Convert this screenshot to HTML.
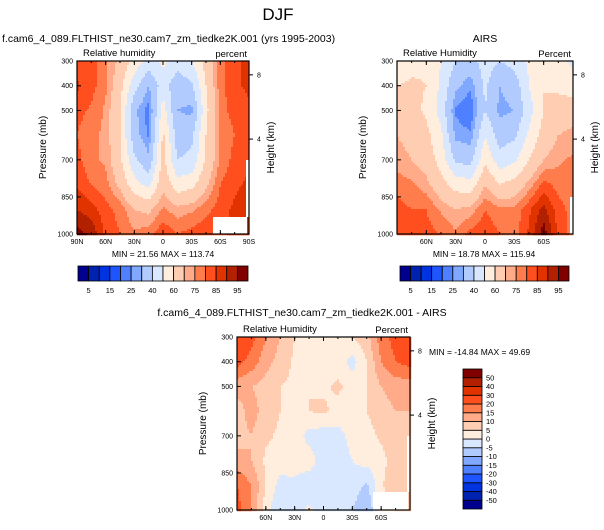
<!DOCTYPE html>
<html><head><meta charset="utf-8">
<style>
html,body{margin:0;padding:0;background:#fff;}
svg{display:block;font-family:"Liberation Sans",sans-serif;}
</style></head>
<body>
<svg id="chart" width="604" height="530" viewBox="0 0 604 530" xmlns="http://www.w3.org/2000/svg">
<text x="278" y="20" font-size="17" text-anchor="middle">DJF</text>
</svg>
<script>
// ---- data ----
const lats = [90,75,60,45,30,15,0,-15,-30,-45,-60,-75,-90];
const pressures = [300,400,500,600,700,800,900,1000];
const modelRH = [
 [82,83,76,68,56,46,52,45,50,64,78,84,86],
 [86,82,76,64,44,30,45,33,38,60,78,84,86],
 [82,79,74,60,32,22,55,30,28,57,78,82,84],
 [80,76,74,60,34,24,62,35,38,60,76,80,82],
 [82,76,74,62,42,32,64,40,42,62,76,82,84],
 [84,80,77,68,54,47,68,54,57,68,80,84,86],
 [90,87,82,78,70,68,76,72,74,78,83,86,88],
 [97,94,84,80,76,78,84,80,82,84,84,86,86]
];
const airsRH = [
 [52,56,58,50,40,36,45,40,44,52,56,52,48],
 [60,62,60,48,32,26,42,30,34,50,60,58,55],
 [66,64,58,46,24,20,40,28,30,46,60,64,66],
 [70,68,63,52,28,26,50,35,38,52,64,70,72],
 [72,70,66,56,38,36,58,44,48,60,70,74,76],
 [78,76,72,64,56,54,70,60,64,72,82,78,78],
 [82,80,80,74,70,72,80,76,76,84,92,82,78],
 [80,82,82,80,76,82,84,80,78,86,98,84,78]
];
const diffRH = [
 [25,22,15,10,5,3,3,3,5,8,18,22,30],
 [22,18,12,8,4,3,2,3,-2,5,15,20,22],
 [12,10,8,5,4,5,4,6,3,5,10,12,12],
 [8,12,8,5,3,5,6,3,3,5,8,10,10],
 [8,10,6,4,3,-2,-3,-2,2,3,6,8,8],
 [12,10,4,3,2,3,-4,-3,0,2,3,8,10],
 [20,15,5,-2,-1,-4,-3,-4,-2,-6,4,10,10],
 [22,15,2,-5,-2,1,-3,-2,-5,-10,3,5,5]
];
const rhLevels = [5,10,15,20,25,30,40,50,60,70,75,80,85,90,95];
const rhTickLabels = ["5","15","25","40","60","75","85","95"];
const diffLevels = [-50,-40,-30,-20,-15,-10,-5,0,5,10,15,20,30,40,50];
const diffTickLabels = ["-50","-40","-30","-20","-15","-10","-5","0","5","10","15","20","30","40","50"];
const pTicks = [300,400,500,700,850,1000];
const latTicksFull = [90,60,30,0,-30,-60,-90];
const latTicksShort = [60,30,0,-30,-60];
const heightTicks = [[8,356],[4,616]];
const colors = ["#00008f","#0022b0","#0033e0","#1f55ff","#4f80ff","#80a8ff","#b2cbff","#d9e8ff",
 "#ffeedd","#ffcdb2","#ffaa88","#ff7d4d","#ff4f1f","#e03300","#b32000","#800000"];

const NS="http://www.w3.org/2000/svg";
const svg=document.getElementById('chart');
function mk(tag,attrs,parent){const e=document.createElementNS(NS,tag);for(const k in attrs)e.setAttribute(k,attrs[k]);(parent||svg).appendChild(e);return e;}
function latLabel(l){return l===0?"0":(Math.abs(l)+(l>0?"N":"S"));}
function sample(grid,lat,p){
  let fi=(90-lat)/15; fi=Math.max(0,Math.min(lats.length-1.0001,fi));
  let fj=(p-300)/100; fj=Math.max(0,Math.min(pressures.length-1.0001,fj));
  const i=Math.floor(fi),j=Math.floor(fj),a=fi-i,b=fj-j;
  return (grid[j][i]*(1-a)+grid[j][i+1]*a)*(1-b)+(grid[j+1][i]*(1-a)+grid[j+1][i+1]*a)*b;
}
function idx(v,levels){let n=0;for(const l of levels)if(v>=l)n++;return n;}

function panel(o){
  const g=mk('g',{});
  
  
  const X=lat=>o.x0+(90-lat)/180*(o.x1-o.x0);
  const Y=p=>o.y0+(p-300)/700*(o.y1-o.y0);
  const cs=2;
  for(let x=o.x0;x<o.x1;x+=cs){
    for(let y=o.y0;y<o.y1;y+=cs){
      const lat=90-(x+cs/2-o.x0)/(o.x1-o.x0)*180;
      const p=300+(y+cs/2-o.y0)/(o.y1-o.y0)*700;
      const v=sample(o.grid,lat,p);
      const r=mk('rect',{x:x,y:y,width:cs+0.3,height:cs+0.3,fill:colors[idx(v,o.levels)]},g);
      
      
    }
  }
  (o.masks||[]).forEach(m=>mk('rect',{x:m[0],y:m[1],width:m[2],height:m[3],fill:'#fff'},g));
  mk('rect',{x:o.x0,y:o.y0,width:o.x1-o.x0,height:o.y1-o.y0,fill:'none',stroke:'#000','stroke-width':1.2},g);
  pTicks.forEach(p=>{
    const y=Y(p);
    mk('line',{x1:o.x0,x2:o.x0+4,y1:y,y2:y,stroke:'#000'},g);
    const t=mk('text',{x:o.x0-4,y:y+2.5,'font-size':7,'text-anchor':'end'},g);t.textContent=p;
    
  });
  o.latTicks.forEach(l=>{
    const x=X(l);
    mk('line',{x1:x,x2:x,y1:o.y1,y2:o.y1-4,stroke:'#000'},g);
    mk('line',{x1:x,x2:x,y1:o.y0,y2:o.y0+4,stroke:'#000'},g);
    const t=mk('text',{x:x,y:o.y1+10,'font-size':7,'text-anchor':'middle'},g);t.textContent=latLabel(l);
    
  });
  for(let l=75;l>=-75;l-=15){const x=X(l);mk('line',{x1:x,x2:x,y1:o.y1,y2:o.y1-2,stroke:'#000'},g);mk('line',{x1:x,x2:x,y1:o.y0,y2:o.y0+2,stroke:'#000'},g);}
  heightTicks.forEach(h=>{
    const y=Y(h[1]);
    mk('line',{x1:o.x1,x2:o.x1+4,y1:y,y2:y,stroke:'#000'},g);
    const t=mk('text',{x:o.x1+8,y:y+2.5,'font-size':7},g);t.textContent=h[0];
    
  });
  const yt=mk('text',{x:0,y:0,'font-size':10,'text-anchor':'middle',transform:`translate(${o.x0-31},${(o.y0+o.y1)/2}) rotate(-90)`},g);yt.textContent="Pressure (mb)";
  
  const ht=mk('text',{x:0,y:0,'font-size':10,'text-anchor':'middle',transform:`translate(${o.x1+25},${(o.y0+o.y1)/2}) rotate(-90)`},g);ht.textContent="Height (km)";
  
  const l1=mk('text',{x:o.x0+6,y:o.y0-5,'font-size':9.5},g);l1.textContent=o.left;
  
  const l2=mk('text',{x:o.x1-2,y:o.y0-4,'font-size':9.5,'text-anchor':'end'},g);l2.textContent=o.right;
  
}
function hbar(x0,x1,y0,y1,name){
  const g=mk('g',{});
  
  const w=(x1-x0)/colors.length;
  colors.forEach((c,i)=>{const r=mk('rect',{x:x0+i*w,y:y0,width:w,height:y1-y0,fill:c,stroke:'#000','stroke-width':0.8},g);
    });
  rhTickLabels.forEach((s,k)=>{const t=mk('text',{x:x0+(2*k+1)*w,y:y1+12,'font-size':7.5,'text-anchor':'middle'},g);t.textContent=s;
    });
}
function vbar(x0,x1,y0,y1,name){
  const g=mk('g',{});
  
  const h=(y1-y0)/colors.length;
  colors.forEach((c,i)=>{const r=mk('rect',{x:x0,y:y1-(i+1)*h,width:x1-x0,height:h,fill:c,stroke:'#000','stroke-width':0.8},g);
    });
  diffTickLabels.forEach((s,k)=>{const t=mk('text',{x:x1+4,y:y1-(k+1)*h+2.5,'font-size':7.5},g);t.textContent=s;
    });
}
function txt(x,y,s,size,anchor,name){const t=mk('text',{x:x,y:y,'font-size':size,'text-anchor':anchor||'start'});t.textContent=s;
  }

txt(2,42,"f.cam6_4_089.FLTHIST_ne30.cam7_zm_tiedke2K.001 (yrs 1995-2003)",10.5,'start','model-panel-title');
txt(485,42,"AIRS",10.5,'middle','airs-panel-title');
txt(302,316,"f.cam6_4_089.FLTHIST_ne30.cam7_zm_tiedke2K.001 - AIRS",10.5,'middle','diff-panel-title');

panel({name:'model-panel',grid:modelRH,levels:rhLevels,x0:77,x1:249,y0:61,y1:234,latTicks:latTicksFull,left:'Relative humidity',right:'percent',
  masks:[[213,217,34,17],[246,160,3,57]]});
panel({name:'airs-panel',grid:airsRH,levels:rhLevels,x0:397,x1:573,y0:61,y1:234,latTicks:latTicksShort,left:'Relative Humidity',right:'Percent',
  masks:[[570,197,3,37]]});
panel({name:'diff-panel',grid:diffRH,levels:diffLevels,x0:237,x1:410,y0:337,y1:510,latTicks:latTicksShort,left:'Relative Humidity',right:'Percent',
  masks:[[373,492,35,18],[407,436,3,56]]});

txt(163,257,"MIN =  21.56  MAX = 113.74",8.5,'middle','model-min-max');
txt(484,257,"MIN =  18.78  MAX = 115.94",8.5,'middle','airs-min-max');
txt(429,355,"MIN = -14.84  MAX =  49.69",8.5,'start','diff-min-max');

hbar(78,248,266,281,'model-colorbar');
hbar(400,569,266,281,'airs-colorbar');
vbar(463,482,369,509,'diff-colorbar');
</script>
</body></html>
